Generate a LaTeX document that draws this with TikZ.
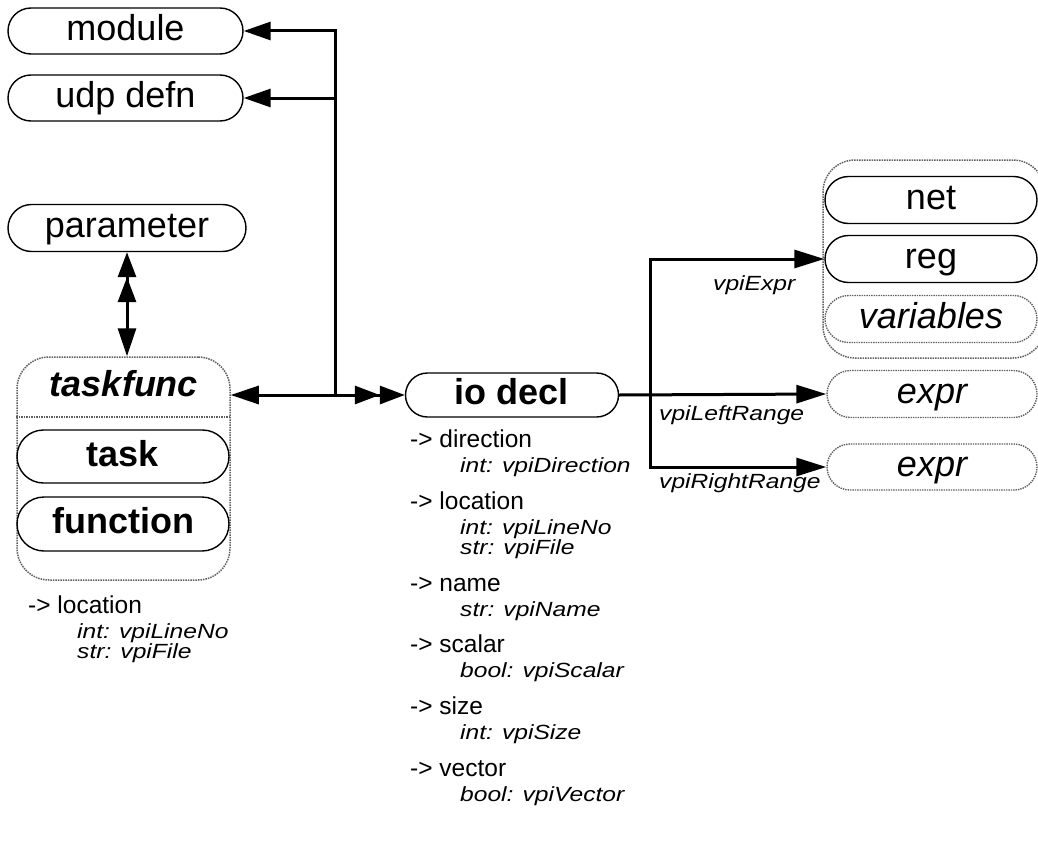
\documentclass[tikz,border=0pt]{standalone}
\usepackage{fontspec}
\setmainfont{Liberation Sans}
\newfontfamily\attrfont[FakeStretch=1.2]{Liberation Sans}
\usetikzlibrary{arrows.meta,shapes.misc}
\definecolor{dotgray}{RGB}{95,95,95}
\tikzset{
  pill/.style={draw,rounded rectangle,line width=1.4pt,minimum height=46pt,inner sep=0pt,text height=26pt,text depth=7pt,font=\fontsize{36}{40}\selectfont},
  dpill/.style={pill,draw=dotgray,densely dotted},
  grp/.style={draw=dotgray,densely dotted,line width=1.5pt,rounded corners=32pt,inner sep=0pt},
  link/.style={line width=3pt},
  attr/.style={anchor=base west,inner sep=0pt,font=\fontsize{24.5}{26}\selectfont},
  attrit/.style={anchor=base west,inner sep=0pt,font=\attrfont\itshape\fontsize{20.5}{22}\selectfont},
  arrin/.style={arrows={Triangle[length=27pt,width=18pt]-}},
  arrout/.style={arrows={-Triangle[length=30pt,width=18pt]}},
  duo/.style={arrows={Triangle[length=28pt,width=18pt]-Triangle[length=25pt,width=18pt,sep=0pt]Triangle[length=25pt,width=18pt,sep=0pt]}}
}
\begin{document}
\begin{tikzpicture}[x=1pt,y=-1pt]
  \useasboundingbox (0,0) rectangle (1038,843);
  % left side
  \node[pill,minimum width=235pt] (module) at (125.5,31) {module};
  \node[pill,minimum width=235pt] (udp) at (125.5,98) {udp defn};
  \node[pill,minimum width=238pt,minimum height=47pt] (param) at (127,228) {parameter};
  \node[grp,minimum width=213pt,minimum height=223pt] (tfgrp) at (123.5,468.5) {};
  \node[font=\fontsize{36}{40}\selectfont\bfseries\itshape,text height=26pt,text depth=7pt] (tfname) at (124,387) {taskfunc};
  \draw[dotgray,densely dotted,line width=1.5pt] (tfgrp.west |- 0,417) -- (tfgrp.east |- 0,417);
  \node[pill,minimum width=212pt,minimum height=53pt,font=\fontsize{36}{40}\selectfont\bfseries] (task) at (123,456.5) {task};
  \node[pill,minimum width=212pt,minimum height=54pt,font=\fontsize{36}{40}\selectfont\bfseries] (func) at (123,524) {function};
  \node[attr] (tloc) at (28,613) {-> location};
  \node[attrit] (tlocl) at (77,638) {int: vpiLineNo};
  \node[attrit] (tlocf) at (77,658) {str: vpiFile};
  % io decl
  \node[pill,minimum width=213pt,minimum height=44pt,font=\fontsize{36}{40}\selectfont\bfseries] (io) at (512,395) {io decl};
  \node[attr] (ddir) at (410,447) {-> direction};
  \node[attrit] (ddirv) at (460,472) {int: vpiDirection};
  \node[attr] (dloc) at (410,509) {-> location};
  \node[attrit] (dlocl) at (460,534) {int: vpiLineNo};
  \node[attrit] (dlocf) at (460,554) {str: vpiFile};
  \node[attr] (dname) at (410,591) {-> name};
  \node[attrit] (dnamev) at (460,616) {str: vpiName};
  \node[attr] (dscal) at (410,652) {-> scalar};
  \node[attrit] (dscalv) at (460,677) {bool: vpiScalar};
  \node[attr] (dsize) at (410,714) {-> size};
  \node[attrit] (dsizev) at (460,739) {int: vpiSize};
  \node[attr] (dvec) at (410,776) {-> vector};
  \node[attrit] (dvecv) at (460,801) {bool: vpiVector};
  % right side
  \node[grp,minimum width=222pt,minimum height=198pt] (rgrp) at (934,259) {};
  \node[pill,minimum width=212pt,minimum height=47pt] (net) at (931,200) {net};
  \node[pill,minimum width=212pt,minimum height=47pt] (reg) at (931,259) {reg};
  \node[dpill,minimum width=212pt,minimum height=47pt,font=\fontsize{36}{40}\selectfont\itshape] (vars) at (931,319) {variables};
  \node[dpill,minimum width=210pt,minimum height=47pt,font=\fontsize{36}{40}\selectfont\itshape] (expra) at (932,394) {expr};
  \node[dpill,minimum width=210pt,minimum height=46pt,font=\fontsize{36}{40}\selectfont\itshape] (exprb) at (932,467) {expr};
  \node[attrit] (lexpr) at (713,290) {vpiExpr};
  \node[attrit] (lleft) at (659,420) {vpiLeftRange};
  \node[attrit] (lright) at (659,488) {vpiRightRange};
  % connectors
  \coordinate (jl) at (335,395);
  \coordinate (jr) at (650,395);
  \draw[link,arrin] (module.east) -| (jl);
  \draw[link,arrin] (udp.east) -| (jl);
  \draw[link,duo] (io.west -| tfgrp.east) -- (io.west);
  \draw[link,duo] (param.south |- tfgrp.north) -- (param.south);
  \draw[link,arrout] (io.east) -- (expra.west);
  \draw[link,arrout] (jr) |- (reg.west);
  \draw[link,arrout] (jr) |- (exprb.west);
\end{tikzpicture}
\end{document}
